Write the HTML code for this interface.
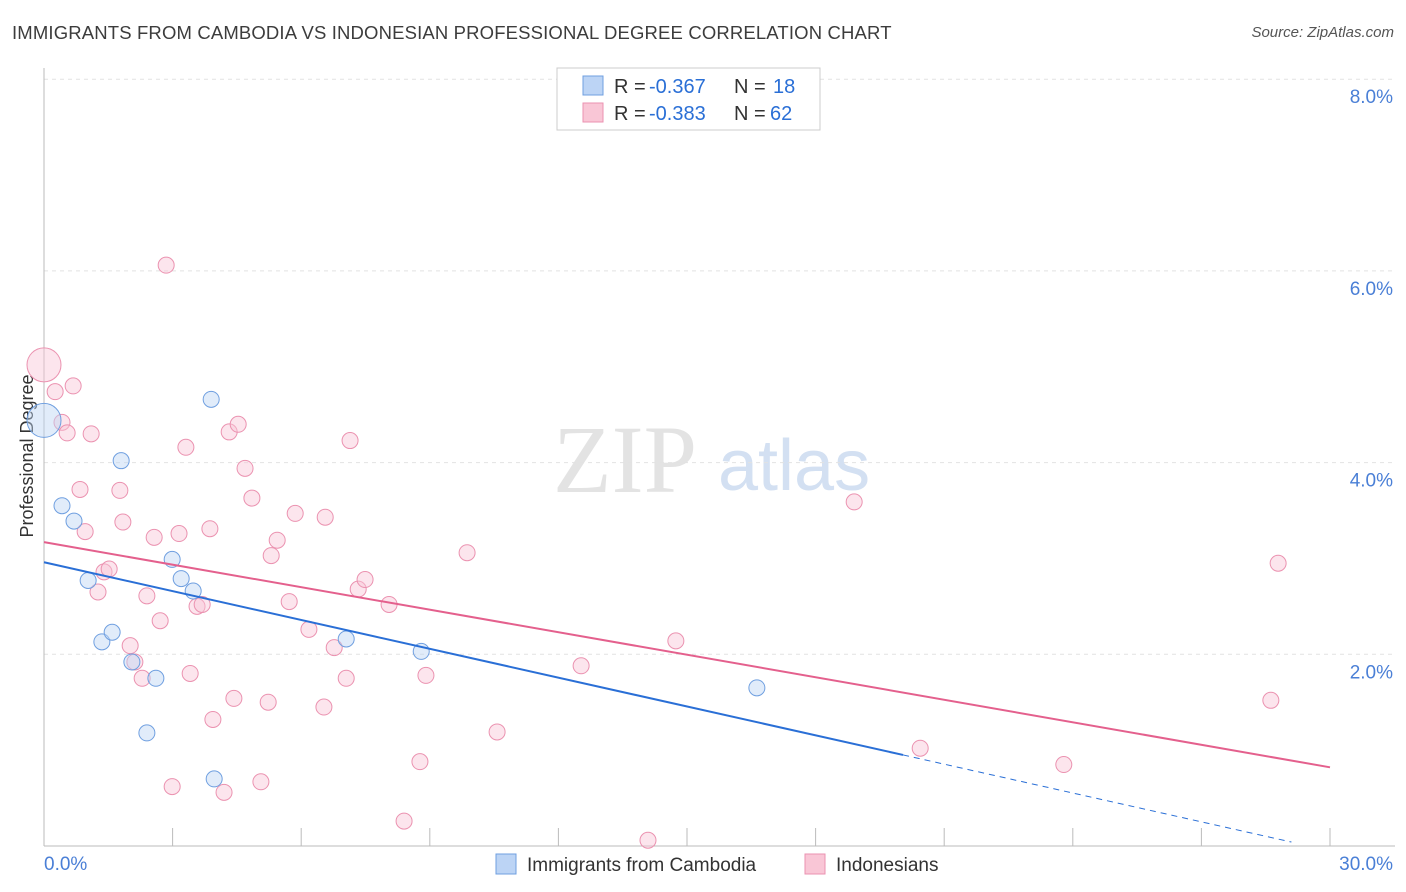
<!DOCTYPE html>
<html><head><meta charset="utf-8">
<style>
body{margin:0;background:#fff;font-family:"Liberation Sans",sans-serif;}
#wrap{position:relative;width:1406px;height:892px;overflow:hidden;}
.title{position:absolute;left:12px;top:22px;font-size:18.5px;color:#3c3c3c;letter-spacing:0.15px;}
.source{position:absolute;right:12px;top:24px;font-size:15px;color:#555;font-style:italic;}
</style></head><body>
<div id="wrap">
<div class="title">IMMIGRANTS FROM CAMBODIA VS INDONESIAN PROFESSIONAL DEGREE CORRELATION CHART</div>
<div class="source">Source: ZipAtlas.com</div>
<svg id="chart" width="1406" height="892" style="position:absolute;left:0;top:0"></svg>
</div>
<script>
const blueX=[0,0.42,0.70,1.03,1.35,1.59,1.80,2.05,2.40,2.61,2.99,3.20,3.48,3.90,3.97,7.05,8.80,16.63];
const blueY=[4.44,3.55,3.39,2.77,2.13,2.23,4.02,1.92,1.18,1.75,2.99,2.79,2.66,4.66,0.70,2.16,2.03,1.65];
const pinkX=[0,0.26,0.68,0.42,0.54,1.10,0.84,0.96,1.26,1.40,1.52,1.77,1.84,2.01,2.12,2.29,2.40,2.57,2.71,2.85,2.99,3.15,3.31,3.41,3.57,3.69,3.87,3.94,4.20,4.32,4.43,4.53,4.69,4.85,5.06,5.23,5.30,5.44,5.72,5.86,6.18,6.53,6.56,6.77,7.05,7.14,7.33,7.49,8.05,8.40,8.91,8.77,9.87,10.57,12.53,14.09,14.74,18.90,20.44,23.79,28.62,28.79];
const pinkY=[5.02,4.74,4.80,4.42,4.31,4.30,3.72,3.28,2.65,2.86,2.89,3.71,3.38,2.09,1.92,1.75,2.61,3.22,2.35,6.06,0.62,3.26,4.16,1.80,2.50,2.52,3.31,1.32,0.56,4.32,1.54,4.40,3.94,3.63,0.67,1.50,3.03,3.19,2.55,3.47,2.26,1.45,3.43,2.07,1.75,4.23,2.68,2.78,2.52,0.26,1.78,0.88,3.06,1.19,1.88,0.06,2.14,3.59,1.02,0.85,1.52,2.95];
const blueTrend=[2.96,-0.1003];
const pinkTrend=[3.17,-0.0783];
const yTicks=[2,4,6,8];
const yTickLabels=["2.0%","4.0%","6.0%","8.0%"];
const xTickVals=[0,3,6,9,12,15,18,21,24,27,30];

const X0=44,X1=1330,Y0=846,PXY=95.85;
const sx=v=>X0+v*(X1-X0)/30;
const sy=v=>Y0-v*PXY;
const svg=document.getElementById('chart');
const NS='http://www.w3.org/2000/svg';
function mk(tag,attrs,parent){const e=document.createElementNS(NS,tag);for(const k in attrs)e.setAttribute(k,attrs[k]);(parent||svg).appendChild(e);return e;}

let wm=mk('text',{x:553,y:492,'font-size':96,'font-family':'Liberation Serif',fill:'#e3e3e3'});
wm.textContent='ZIP';


let wm2=mk('text',{x:718,y:490,'font-size':72,'font-family':'Liberation Sans',fill:'#d3e0f2'});
wm2.textContent='atlas';



yTicks.forEach((v,i)=>{
 let g=mk('line',{x1:X0,x2:1395,y1:sy(v),y2:sy(v),stroke:'#e2e2e2','stroke-dasharray':'4,4'});
 
 
 let t=mk('text',{x:1393,y:sy(v)+24,'text-anchor':'end','font-size':19,fill:'#4a7fd6'});
 t.textContent=yTickLabels[i];
 
 
});
let ax=mk('line',{x1:X0,x2:X0,y1:68,y2:Y0,stroke:'#bbb'});


let bx=mk('line',{x1:X0,x2:1395,y1:Y0,y2:Y0,stroke:'#bbb'});


xTickVals.forEach(v=>{
 let t=mk('line',{x1:sx(v),x2:sx(v),y1:828,y2:Y0,stroke:'#bbb'});
 
 
});
let xl=mk('text',{x:44,y:870,'font-size':19,fill:'#4a7fd6'});xl.textContent='0.0%';


let xr=mk('text',{x:1393,y:870,'font-size':19,fill:'#4a7fd6','text-anchor':'end'});xr.textContent='30.0%';


let yt=mk('text',{x:33,y:456,'font-size':18,fill:'#333','text-anchor':'middle',transform:'rotate(-90 33 456)'});
yt.textContent='Professional Degree';



function pts(xs,ys,fill,stroke,name){
 xs.forEach((x,i)=>{
  let r=(i===0)?17:8;
  let c=mk('circle',{cx:sx(x),cy:sy(ys[i]),r:r,fill:fill,'fill-opacity':0.45,stroke:stroke,'stroke-width':1});
  
  
 });
}
pts(pinkX,pinkY,'#f9c6d6','#eb92b0','point-indonesians');
pts(blueX,blueY,'#bcd4f5','#6f9fe0','point-cambodia');

let bEnd=20.04;
let tl=mk('line',{x1:sx(0),y1:sy(blueTrend[0]),x2:sx(bEnd),y2:sy(blueTrend[0]+blueTrend[1]*bEnd),stroke:'#2a6fd6','stroke-width':2});


let td=mk('line',{x1:sx(bEnd),y1:sy(blueTrend[0]+blueTrend[1]*bEnd),x2:sx(29.1),y2:sy(blueTrend[0]+blueTrend[1]*29.1),stroke:'#2a6fd6','stroke-width':1,'stroke-dasharray':'6,5'});


let tp=mk('line',{x1:sx(0),y1:sy(pinkTrend[0]),x2:sx(30),y2:sy(pinkTrend[0]+pinkTrend[1]*30),stroke:'#e4608d','stroke-width':2});



let lg=mk('g',{});


mk('rect',{x:557,y:68,width:263,height:62,fill:'#fff',stroke:'#ccc'},lg);
mk('rect',{x:583,y:76,width:20,height:19,fill:'#bcd4f5',stroke:'#6f9fe0'},lg);
mk('rect',{x:583,y:103,width:20,height:19,fill:'#f9c6d6',stroke:'#eb92b0'},lg);
function ltxt(x,y,s,c){let t=mk('text',{x:x,y:y,'font-size':20,fill:c},lg);t.textContent=s;return t;}
ltxt(614,93,'R = ','#333');ltxt(649,93,'-0.367','#2a6fd6');ltxt(734,93,'N = ','#333');ltxt(773,93,'18','#2a6fd6');
ltxt(614,120,'R = ','#333');ltxt(649,120,'-0.383','#2a6fd6');ltxt(734,120,'N = ','#333');ltxt(770,120,'62','#2a6fd6');

let b1=mk('rect',{x:496,y:854,width:20,height:20,fill:'#bcd4f5',stroke:'#6f9fe0'});


let bt1=mk('text',{x:527,y:871,'font-size':19,fill:'#333'});bt1.textContent='Immigrants from Cambodia';


let b2=mk('rect',{x:805,y:854,width:20,height:20,fill:'#f9c6d6',stroke:'#eb92b0'});


let bt2=mk('text',{x:836,y:871,'font-size':19,fill:'#333'});bt2.textContent='Indonesians';


</script>
</body></html>
